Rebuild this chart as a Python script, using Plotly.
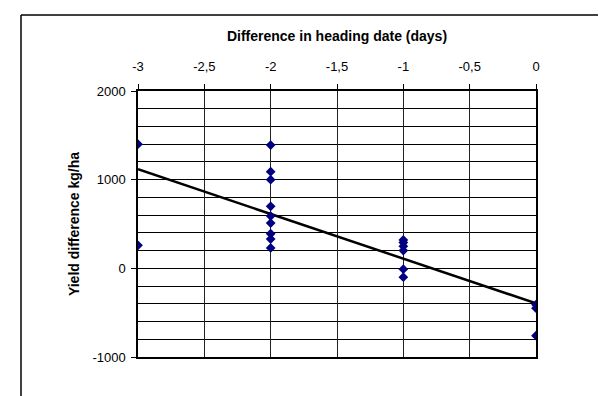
import numpy as np
import plotly.graph_objects as go

# Data
heading_diff = [-3, -3,
                -2, -2, -2, -2, -2, -2, -2, -2, -2,
                -1, -1, -1, -1, -1, -1,
                0, 0, 0]
yield_diff = [1400, 260,
              1390, 1090, 1000, 700, 590, 510, 390, 330, 230,
              320, 290, 250, 200, -10, -100,
              -410, -450, -760]

x_tickvals = [-3, -2.5, -2, -1.5, -1, -0.5, 0]
x_ticktext = ["-3", "-2,5", "-2", "-1,5", "-1", "-0,5", "0"]
y_tickvals = [-1000, 0, 1000, 2000]
y_ticktext = ["-1000", "0", "1000", "2000"]

x_title = "Difference in heading date (days)"
y_title = "Yield difference kg/ha"

# Linear trendline fitted to the data
slope, intercept = np.polyfit(heading_diff, yield_diff, 1)
trend_x = np.array([min(heading_diff), max(heading_diff)])
trend_y = slope * trend_x + intercept

FONT = "Liberation Sans, Arial, sans-serif"

fig = go.Figure()
fig.add_trace(go.Scatter(
    x=trend_x, y=trend_y, mode="lines",
    line=dict(color="black", width=2.5),
    showlegend=False, hoverinfo="skip",
))
fig.add_trace(go.Scatter(
    x=heading_diff, y=yield_diff, mode="markers",
    marker=dict(symbol="diamond", size=7.5, color="#000080"),
    showlegend=False,
))

fig.update_layout(
    width=606, height=396,
    margin=dict(l=130, r=78, t=83, b=47),
    paper_bgcolor="white", plot_bgcolor="white",
    font=dict(family=FONT, color="black", size=13),
    xaxis=dict(
        side="top", range=[-3, 0],
        tickvals=x_tickvals, ticktext=x_ticktext,
        showgrid=True, gridcolor="#222", gridwidth=1,
        showline=True, linecolor="black", linewidth=1.5, mirror=True,
        ticks="outside", ticklen=5, tickcolor="black",
        ticklabelstandoff=8,
        zeroline=False,
        tickfont=dict(size=13),
        title=dict(text="<b>" + x_title + "</b>", font=dict(size=14), standoff=14),
    ),
    yaxis=dict(
        range=[-1000, 2000],
        tickvals=y_tickvals, ticktext=y_ticktext,
        showgrid=True, gridcolor="black", gridwidth=1,
        minor=dict(dtick=200, tick0=0, showgrid=True, gridcolor="black", gridwidth=1, ticks=""),
        showline=True, linecolor="black", linewidth=1.5, mirror=True,
        ticks="outside", ticklen=5, tickcolor="black",
        ticklabelstandoff=3,
        zeroline=False,
        tickfont=dict(size=13),
        title=dict(text="<b>" + y_title + "</b>", font=dict(size=14), standoff=10),
    ),
    shapes=[
        dict(type="line", xref="paper", yref="paper",
             x0=(13 - 130) / 398, x1=1.3, y0=(349 - 7) / 266, y1=(349 - 7) / 266,
             line=dict(color="black", width=1.5)),
        dict(type="line", xref="paper", yref="paper",
             x0=(13 - 130) / 398, x1=(13 - 130) / 398, y0=(349 - 7) / 266, y1=-0.3,
             line=dict(color="black", width=1.5)),
    ],
)

fig.write_html("out.html")
